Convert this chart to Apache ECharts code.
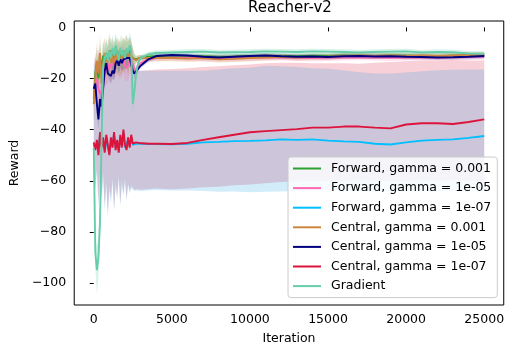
<!DOCTYPE html>
<html>
<head>
<meta charset="utf-8">
<script src="https://cdn.jsdelivr.net/npm/echarts@6/dist/echarts.min.js"></script>
<style>
  html, body { margin: 0; padding: 0; background: #fff; }
  #chart { width: 507px; height: 350px; }
</style>
</head>
<body>
<div id="chart"></div>
<script>
// Training iterations at which every run was evaluated
const iterations = [0, 100, 200, 300, 400, 500, 600, 700, 800, 900,
  1000, 1100, 1200, 1300, 1400, 1500, 1600, 1700, 1800, 1900,
  2000, 2100, 2200, 2300, 2400, 2500, 2600, 2700, 2800, 2900,
  3000, 3500, 4000, 5000, 6000, 7000, 8000, 9000, 10000, 11000,
  12000, 13000, 14000, 15000, 16000, 17000, 18000, 19000, 20000, 21000,
  22000, 23000, 24000, 25000];

// Mean reward per method
const forward1e3 = [-28, -18, -14, -20, -12, -16, -11, -15, -10, -13,
  -11, -9, -13, -10, -12, -9, -12, -10, -13, -9,
  -11, -10, -12, -9, -11, -12, -12, -12.5, -12, -12,
  -11.8, -11.5, -11.3, -11.2, -11.4, -11.3, -11.5, -11.4, -11.2, -11.1,
  -11.2, -11.3, -11.1, -11.2, -11, -11.1, -11.2, -11, -11.1, -11.2,
  -11.3, -11.1, -11, -10.9];
const forward1e5 = [-25, -22, -20, -24, -26, -25, -22, -18, -16, -17,
  -14, -16, -13, -15, -14, -12, -15, -13, -14, -12,
  -15, -16, -15, -13, -12, -14, -16, -17, -16, -15,
  -14, -12.5, -12, -11.8, -11.9, -12, -12.1, -12, -11.9, -11.8,
  -11.8, -11.9, -12, -11.9, -11.8, -11.7, -11.8, -11.9, -11.8, -11.7,
  -11.8, -11.7, -11.6, -11.5];
const forward1e7 = [-46, -47, -45, -49, -42, -46, -44, -48, -43, -47,
  -49, -44, -46, -42, -47, -45, -48, -43, -46, -41,
  -47, -47, -44, -46, -43, -46, -46, -45.5, -45.6, -45.5,
  -45.6, -45.6, -45.6, -45.7, -45.5, -45, -44.8, -44.5, -44.4, -44.2,
  -43.8, -44, -43.8, -44.3, -44.6, -44.8, -45.5, -45.8, -45, -44.3,
  -44, -43.8, -43.2, -42.5];
const central1e3 = [-30, -20, -13, -18, -10, -22, -14, -10, -16, -12,
  -9, -14, -11, -15, -10, -13, -11, -14, -10, -12,
  -11, -9, -12, -10, -11, -12, -12.5, -13, -12.5, -12,
  -12, -12, -12, -12, -12.2, -12, -12.5, -12.3, -12, -11.8,
  -11.5, -11.8, -11.6, -11.5, -11.2, -11, -11.2, -11, -11.3, -11,
  -11.2, -11, -10.8, -10.8];
const central1e5 = [-24, -22, -30, -36, -28, -31, -24, -17, -14, -18,
  -18, -19, -17, -18, -14, -13, -15, -12.5, -14, -12.5,
  -13, -12, -12.5, -12, -12.5, -17, -18, -17.5, -16.5, -16,
  -15, -12.5, -11.2, -10.8, -11, -11.5, -11.8, -11.5, -11.2, -11,
  -11.3, -11.5, -11.4, -11.6, -11.3, -11.2, -11.4, -11.3, -11.5, -11.6,
  -11.8, -11.7, -11.5, -11.2];
const central1e7 = [-45, -48, -44, -50, -41, -47, -43, -49, -42, -46,
  -50, -43, -47, -41, -48, -44, -49, -42, -47, -40,
  -46, -48, -43, -47, -42, -45.5, -45.5, -45, -45.3, -45.2,
  -45.3, -45.5, -45.5, -45.6, -45.2, -44, -43, -42, -41, -40.6,
  -40.2, -39.8, -39.2, -39.2, -38.8, -38.8, -39.2, -39.5, -38, -37.5,
  -37.5, -37.8, -37, -36];
const gradient = [-47, -88, -95, -90, -76, -45, -15, -12, -10, -13,
  -9, -12, -8, -11, -7, -10, -13, -8, -11, -9,
  -12, -8, -10, -7, -9, -30, -25, -19, -15, -13,
  -12, -10.5, -10, -9.8, -9.6, -9.5, -9.8, -9.7, -9.6, -9.4,
  -9.5, -9.6, -9.4, -9.5, -9.6, -9.8, -9.6, -9.5, -9.4, -9.8,
  -9.6, -9.7, -10.2, -10.3];

// Spread (half-width of the shaded region) for the tight runs
const spreadF1e3 = [5, 5, 6, 5, 6, 5, 6, 5, 6, 5, 6, 5, 6, 5, 6, 5, 6, 5, 6, 5,
  6, 5, 6, 5, 6, 4, 2, 1.5, 1.2, 1.1, 1, 1, 1, 1, 1, 1, 1, 1, 1, 1,
  1, 1, 1, 1, 1, 1, 1, 1, 1, 1, 1, 1, 1, 1];
const spreadF1e5 = [6, 5, 6, 5, 6, 5, 6, 5, 6, 5, 6, 5, 6, 5, 6, 5, 6, 5, 6, 5,
  6, 5, 6, 5, 6, 4, 2.5, 2, 1.5, 1.3, 1.2, 1.2, 1.2, 1.2, 1.2, 1.2, 1.2, 1.2, 1.2, 1.2,
  1.2, 1.2, 1.2, 1.2, 1.2, 1.2, 1.2, 1.2, 1.2, 1.2, 1.2, 1.2, 1.2, 1.2];
const spreadC1e3 = [7, 6, 7, 6, 7, 6, 7, 6, 7, 6, 7, 6, 7, 6, 7, 6, 7, 6, 7, 6,
  7, 6, 7, 6, 7, 4, 2, 1.5, 1.3, 1.2, 1.2, 1.2, 1.2, 1.2, 1.2, 1.2, 1.2, 1.2, 1.2, 1.2,
  1.2, 1.2, 1.2, 1.2, 1.2, 1.2, 1.2, 1.2, 1.2, 1.2, 1.2, 1.2, 1.2, 1.2];
const spreadC1e5 = [3, 3, 4, 4, 3, 4, 3, 3, 3, 3, 3, 3, 3, 3, 3, 3, 3, 3, 3, 3,
  3, 3, 3, 3, 3, 3, 2, 1.5, 1.2, 1, 1, 1, 1, 1, 1, 1, 1, 1, 1, 1,
  1, 1, 1, 1, 1, 1, 1, 1, 1, 1, 1, 1, 1, 1];
const spreadGrad = [4, 6, 9, 8, 7, 6, 5, 5, 5, 5, 5, 5, 5, 5, 5, 5, 5, 5, 5, 5,
  5, 5, 5, 5, 5, 4, 3, 2, 1.5, 1.2, 1.2, 1, 1, 1, 1, 1, 1, 1, 1, 1,
  1, 1, 1, 1, 1, 1, 1, 1, 1, 1, 1, 1, 1, 1];

// Bounds of the wide shaded regions of the two 1e-07 runs
const forward1e7High = [-17, -12, -20, -10, -16, -22, -11, -14, -19, -10,
  -15, -21, -12, -16, -11, -18, -13, -9, -17, -12,
  -15, -10, -14, -18, -11, -16, -17, -17.5, -17.5, -17.2,
  -17, -17, -17, -17, -17, -17, -16.5, -16, -15.8, -15,
  -15.2, -15.5, -16, -16.2, -16.8, -17.5, -18, -18, -17.6, -17.2,
  -16.8, -16.6, -16.5, -16.5];
const forward1e7Low = [-60, -64, -57, -70, -60, -68, -59, -72, -62, -74,
  -64, -69, -61, -72, -63, -67, -60, -70, -62, -66,
  -61, -68, -62, -65, -63, -64, -64, -64, -63.8, -64,
  -64, -63.8, -63.6, -63.8, -63.8, -64, -64.3, -64.2, -64.5, -64.3,
  -64.2, -64, -63.8, -63.6, -63.8, -64, -64.2, -64, -63.8, -64,
  -64.2, -64, -63.8, -64];
const central1e7High = [-15, -10, -18, -8, -14, -20, -9, -12, -17, -8,
  -13, -19, -10, -14, -9, -16, -11, -7, -15, -10,
  -13, -8, -12, -16, -9, -14, -16, -17, -17, -17,
  -17, -16.8, -16.5, -16.3, -16, -15.5, -15.2, -14.8, -14.5, -14,
  -13.8, -13.8, -14, -14, -14, -14.2, -13.8, -13.5, -13.2, -13,
  -13, -12.8, -13, -13];
const central1e7Low = [-58, -62, -55, -68, -58, -66, -57, -70, -60, -73,
  -62, -67, -59, -71, -61, -66, -58, -69, -60, -65,
  -59, -67, -61, -64, -62, -63.5, -63.5, -63.5, -63.3, -63.5,
  -63.5, -63.2, -63, -63.3, -63, -62.5, -62.3, -61.8, -61.5, -61,
  -60.5, -60.3, -60, -60.2, -60, -59.8, -60, -60.2, -60, -59.8,
  -60, -59.8, -60, -60];

const xTicks = [0, 5000, 10000, 15000, 20000, 25000];
const yTicks = [-100, -80, -60, -40, -20, 0];

const FONT = 'DejaVu Sans';
// Rows are [reward, iteration] so that stacking happens on the reward dimension
const rows = (ys) => iterations.map((x, i) => [ys[i], x]);

// A shaded region as two stacked lines: invisible lower edge + filled height
function band(key, low, high, fill) {
  const common = {
    type: 'line', stack: key, stackStrategy: 'all', symbol: 'none',
    encode: { x: 1, y: 0 },
    lineStyle: { width: 0, opacity: 0 }, silent: true,
    emphasis: { disabled: true }, z: 1
  };
  return [
    Object.assign({ name: key + ' low', data: rows(low) }, common),
    Object.assign({ name: key + ' fill', data: rows(high.map((h, i) => h - low[i])),
      areaStyle: { color: fill, opacity: 1 } }, common)
  ];
}
const around = (mean, spread) => [mean.map((m, i) => m - spread[i]), mean.map((m, i) => m + spread[i])];

function meanLine(name, values, color) {
  return {
    name, type: 'line', data: rows(values), encode: { x: 1, y: 0 }, symbol: 'none', z: 3,
    lineStyle: { color, width: 1.9 }, itemStyle: { color },
    emphasis: { disabled: true }
  };
}

const runs = [
  { name: 'Forward, gamma = 0.001', color: '#2ca02c', values: forward1e3 },
  { name: 'Forward, gamma = 1e-05', color: '#ff69b4', values: forward1e5 },
  { name: 'Forward, gamma = 1e-07', color: '#00bfff', values: forward1e7 },
  { name: 'Central, gamma = 0.001', color: '#cd853f', values: central1e3 },
  { name: 'Central, gamma = 1e-05', color: '#000080', values: central1e5 },
  { name: 'Central, gamma = 1e-07', color: '#dc143c', values: central1e7 },
  { name: 'Gradient', color: '#66cdaa', values: gradient }
];

const bands = [].concat(
  band('c7', central1e7Low, central1e7High, 'rgba(220,20,60,0.2)'),
  band('f7', forward1e7Low, forward1e7High, 'rgba(9,149,225,0.18)'),
  band('f3', ...around(forward1e3, spreadF1e3), 'rgba(44,160,44,0.2)'),
  band('f5', ...around(forward1e5, spreadF1e5), 'rgba(255,105,180,0.2)'),
  band('c3', ...around(central1e3, spreadC1e3), 'rgba(205,133,63,0.25)'),
  band('c5', ...around(central1e5, spreadC1e5), 'rgba(0,0,128,0.15)'),
  band('gr', ...around(gradient, spreadGrad), 'rgba(102,205,170,0.25)')
);

const minus = (v) => (v < 0 ? '\u2212' + Math.abs(v) : String(v));

const chart = echarts.init(document.getElementById('chart'), null, { renderer: 'canvas' });
chart.setOption({
  animation: false,
  backgroundColor: '#fff',
  title: {
    text: 'Reacher-v2', left: 290, top: 1, textAlign: 'center', padding: 0,
    textStyle: { fontFamily: FONT, fontSize: 15, fontWeight: 'normal', color: '#000' }
  },
  grid: {
    left: 72, top: 21, width: 436.5, height: 284,
    show: true, borderColor: '#000', borderWidth: 1, backgroundColor: 'transparent'
  },
  xAxis: {
    type: 'value', min: -1250, max: 26250,
    name: 'Iteration', nameLocation: 'middle', nameGap: 27,
    nameTextStyle: { fontFamily: FONT, fontSize: 12.5, color: '#000' },
    axisLine: { show: false },
    axisTick: { show: true, length: 4, lineStyle: { color: '#000' }, customValues: xTicks },
    axisLabel: { fontFamily: FONT, fontSize: 12.5, color: '#000', margin: 8,
      customValues: xTicks, formatter: (v) => String(v) },
    splitLine: { show: false }
  },
  yAxis: {
    type: 'value', min: -108.6, max: 2.5,
    name: 'Reward', nameLocation: 'middle', nameGap: 51,
    nameTextStyle: { fontFamily: FONT, fontSize: 12.5, color: '#000' },
    axisLine: { show: false },
    axisTick: { show: true, length: 4, lineStyle: { color: '#000' }, customValues: yTicks },
    axisLabel: { fontFamily: FONT, fontSize: 12.5, color: '#000', margin: 8,
      customValues: yTicks, formatter: minus },
    splitLine: { show: false }
  },
  legend: {
    orient: 'vertical', left: 288, top: 157,
    padding: [4.5, 6, 4.5, 4], itemWidth: 28, itemHeight: 14, itemGap: 5.6,
    backgroundColor: 'rgba(255,255,255,0.8)', borderColor: '#cccccc', borderWidth: 1, borderRadius: 3,
    textStyle: { fontFamily: FONT, fontSize: 12.5, color: '#000', padding: [0, 0, 0, 5], lineHeight: 14 },
    lineStyle: { width: 2 },
    itemStyle: { color: 'rgba(0,0,0,0)', borderWidth: 0, opacity: 0 },
    data: runs.map(r => r.name)
  },
  series: bands.concat(runs.map(r => meanLine(r.name, r.values, r.color)))
});
</script>
</body>
</html>
